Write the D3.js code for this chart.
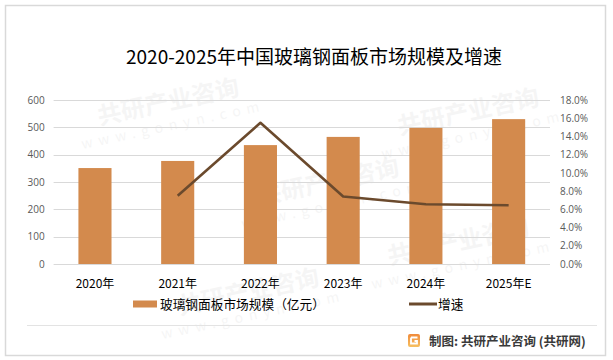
<!DOCTYPE html>
<html><head><meta charset="utf-8">
<script src="https://cdn.jsdelivr.net/npm/d3@7"></script>
<style>body{margin:0;background:#fff;}svg{display:block;}</style>
</head><body>
<script>
const categories = ["2020年","2021年","2022年","2023年","2024年","2025年E"];
const marketSize = [351, 377, 435, 465, 498, 530];
const growthYears = ["2021年","2022年","2023年","2024年","2025年E"];
const growthRate = [0.075, 0.155, 0.074, 0.0655, 0.0645];
const leftTicks = [0,100,200,300,400,500,600];
const rightTicks = [0,0.02,0.04,0.06,0.08,0.10,0.12,0.14,0.16,0.18];

const W=613,H=360;
const svg=d3.select("body").append("svg").attr("width",W).attr("height",H);
const cjk="'Noto Sans CJK SC','Noto Sans',sans-serif";

svg.append("rect").attr("x",5.5).attr("y",5.5).attr("width",600).attr("height",350)
  .attr("fill","#fff").attr("stroke","#d9d9d9").attr("stroke-width",1.5);

// faint watermarks (kept inside the frame)
const wm=[[170,110],[330,190],[460,250],[250,300],[470,120]];
wm.forEach(([x,y])=>{
  const g=svg.append("g").attr("transform",`translate(${x},${y}) rotate(-12)`).attr("opacity",0.035);
  g.append("text").attr("text-anchor","middle").attr("font-family",cjk).attr("font-weight","bold")
   .attr("font-size",24).text("共研产业咨询");
  g.append("text").attr("text-anchor","middle").attr("y",20).attr("font-family",cjk)
   .attr("font-size",14).attr("letter-spacing",6).text("www.gonyn.com");
});

const x0=53.6,x1=550,yTop=100,yBot=264;
const x=d3.scaleBand().domain(categories).range([x0,x1]).padding(0);
const yL=d3.scaleLinear().domain([0,600]).range([yBot,yTop]);
const yR=d3.scaleLinear().domain([0,0.18]).range([yBot,yTop]);

// title
svg.append("text").attr("x",314).attr("y",64).attr("text-anchor","middle")
  .attr("font-family",cjk).attr("font-size",19).attr("fill","#000")
  .text("2020-2025年中国玻璃钢面板市场规模及增速");

// gridlines
svg.append("g").selectAll("line").data(leftTicks).join("line")
  .attr("x1",x0).attr("x2",x1).attr("y1",d=>Math.round(yL(d))+0.5).attr("y2",d=>Math.round(yL(d))+0.5)
  .attr("stroke","#d9d9d9").attr("stroke-width",1);

// left axis
const axL=svg.append("g").attr("transform",`translate(${x0},0)`)
  .call(d3.axisLeft(yL).tickValues(leftTicks).tickSize(0).tickPadding(9));
axL.select(".domain").remove();
axL.selectAll("text").attr("font-family","'Open Sans',sans-serif").attr("font-size",10).attr("fill","#595959");

// right axis
const axR=svg.append("g").attr("transform",`translate(${x1},0)`)
  .call(d3.axisRight(yR).tickValues(rightTicks).tickFormat(d3.format(".1%")).tickSize(0).tickPadding(10));
axR.select(".domain").remove();
axR.selectAll("text").attr("font-family","'Open Sans',sans-serif").attr("font-size",10).attr("fill","#595959");

// bottom axis
const axB=svg.append("g").attr("transform",`translate(0,${yBot})`)
  .call(d3.axisBottom(x).tickSize(0).tickPadding(15));
axB.select(".domain").remove();
axB.selectAll("text").attr("font-family",cjk).attr("font-size",12).attr("fill","#000");

// bars
const bw=x.bandwidth()*0.4;
svg.append("g").selectAll("rect").data(categories).join("rect")
  .attr("x",(d)=>x(d)+x.bandwidth()/2-bw/2).attr("width",bw)
  .attr("y",(d,i)=>yL(marketSize[i])).attr("height",(d,i)=>yBot-yL(marketSize[i]))
  .attr("fill","#D38A4D");

// line
const line=d3.line().x((d,i)=>x(growthYears[i])+x.bandwidth()/2).y(d=>yR(d));
svg.append("path").datum(growthRate).attr("d",line).attr("fill","none")
  .attr("stroke","#6B4A2D").attr("stroke-width",2.6).attr("stroke-linejoin","round");

// legend
svg.append("rect").attr("x",133).attr("y",300.5).attr("width",24).attr("height",7).attr("fill","#D38A4D");
svg.append("text").attr("x",160).attr("y",308.5).attr("font-family",cjk).attr("font-size",12.7)
  .attr("fill","#000").text("玻璃钢面板市场规模（亿元）");
svg.append("line").attr("x1",409).attr("x2",437).attr("y1",304).attr("y2",304)
  .attr("stroke","#6B4A2D").attr("stroke-width",3);
svg.append("text").attr("x",438).attr("y",308.5).attr("font-family",cjk).attr("font-size",12.7)
  .attr("fill","#000").text("增速");

// divider
svg.append("line").attr("x1",27).attr("x2",597).attr("y1",325.5).attr("y2",325.5)
  .attr("stroke","#e3e3e3").attr("stroke-width",1);

// footer logo
const lg=svg.append("g").attr("transform","translate(408,334)");
const grad=svg.append("defs").append("linearGradient").attr("id","lg").attr("x1",0).attr("y1",0).attr("x2",0).attr("y2",1);
grad.append("stop").attr("offset","0%").attr("stop-color","#F08A3A");
grad.append("stop").attr("offset","100%").attr("stop-color","#F7C060");
lg.append("rect").attr("width",12).attr("height",13).attr("rx",2).attr("fill","url(#lg)");
lg.append("path").attr("d","M3,3.5 H9.5 M3,3.5 V9.5 H9 V7 H6.5").attr("stroke","#fff").attr("stroke-width",1.8).attr("fill","none");
svg.append("text").attr("x",429).attr("y",345.5).attr("font-family",cjk).attr("font-size",12.5)
  .attr("font-weight","bold").attr("fill","#3a3a3a").text("制图: 共研产业咨询 (共研网)");
</script>
</body></html>
